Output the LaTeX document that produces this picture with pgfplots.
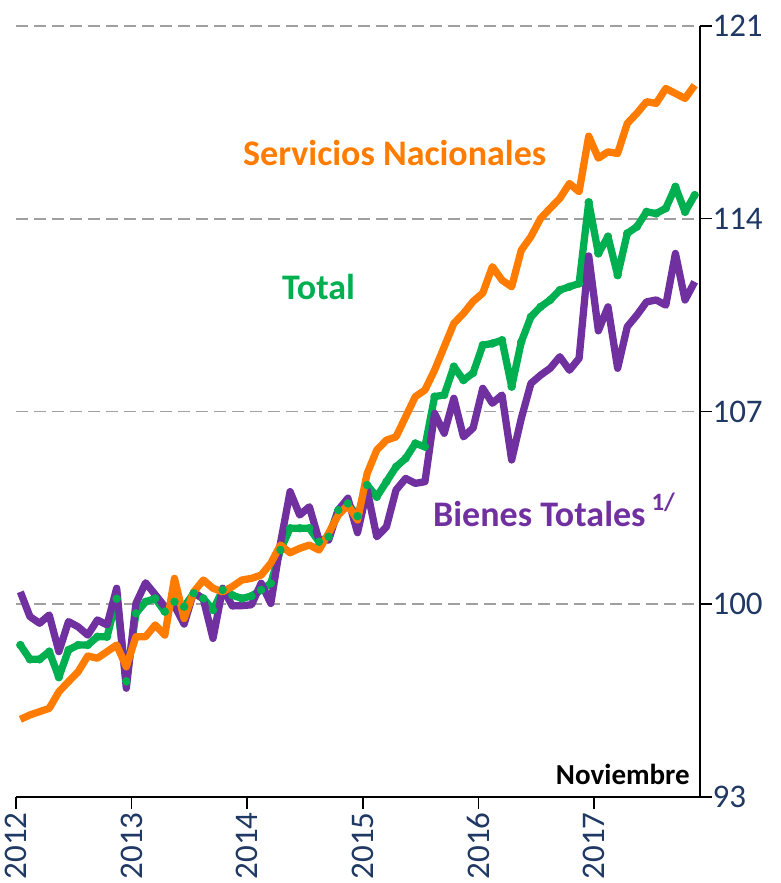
\documentclass[border=0pt]{standalone}
\usepackage{fontspec}
\setmainfont{Carlito}
\usepackage{pgfplots}
\usepackage{pgfplotstable}
\pgfplotsset{compat=1.18}
\definecolor{cOr}{RGB}{255,124,0}
\definecolor{cGr}{RGB}{0,176,80}
\definecolor{cPu}{RGB}{112,48,160}
\definecolor{cTk}{RGB}{31,56,100}
\definecolor{cGd}{RGB}{160,160,160}
\definecolor{cDot}{RGB}{120,230,60}

\pgfplotstableread{
m v
0 95.82
1 95.98
2 96.10
3 96.22
4 96.82
5 97.19
6 97.55
7 98.12
8 98.04
9 98.28
10 98.52
11 97.73
12 98.82
13 98.82
14 99.25
15 98.88
16 100.94
17 99.48
18 100.45
19 100.88
20 100.58
21 100.45
22 100.64
23 100.88
24 100.94
25 101.06
26 101.49
27 102.15
28 101.87
29 102.03
30 102.15
31 101.97
32 102.58
33 103.24
34 103.60
35 103.06
36 104.75
37 105.60
38 105.96
39 106.08
40 106.81
41 107.54
42 107.78
43 108.50
44 109.35
45 110.20
46 110.56
47 111.00
48 111.30
49 112.26
50 111.77
51 111.53
52 112.86
53 113.35
54 114.01
55 114.38
56 114.74
57 115.28
58 114.98
59 117.00
60 116.20
61 116.43
62 116.37
63 117.46
64 117.83
65 118.25
66 118.19
67 118.73
68 118.55
69 118.37
70 118.85
}\servicios

\pgfplotstableread{
m v
0 98.52
1 98.00
2 98.00
3 98.28
4 97.35
5 98.34
6 98.52
7 98.52
8 98.82
9 98.82
10 100.20
11 97.20
12 99.67
13 100.09
14 100.21
15 99.73
16 100.09
17 99.91
18 100.40
19 100.21
20 99.79
21 100.52
22 100.33
23 100.21
24 100.30
25 100.52
26 100.76
27 101.97
28 102.76
29 102.76
30 102.76
31 102.27
32 102.45
33 103.42
34 103.66
35 103.20
36 104.33
37 103.90
38 104.45
39 104.99
40 105.30
41 105.84
42 105.72
43 107.54
44 107.60
45 108.63
46 108.14
47 108.40
48 109.41
49 109.47
50 109.59
51 107.90
52 109.53
53 110.44
54 110.80
55 111.05
56 111.41
57 111.53
58 111.65
59 114.60
60 112.74
61 113.35
62 111.95
63 113.47
64 113.71
65 114.25
66 114.19
67 114.38
68 115.16
69 114.25
70 114.86
}\total

\pgfplotstableread{
m v
0 100.45
1 99.55
2 99.31
3 99.61
4 98.28
5 99.37
6 99.18
7 98.88
8 99.43
9 99.25
10 100.58
11 96.95
12 100.03
13 100.78
14 100.35
15 99.91
16 99.95
17 99.28
18 100.45
19 100.18
20 98.76
21 100.58
22 99.94
23 99.95
24 99.98
25 100.76
26 100.03
27 102.21
28 104.09
29 103.24
30 103.54
31 102.33
32 102.33
33 103.42
34 103.85
35 102.60
36 104.15
37 102.45
38 102.81
39 104.15
40 104.57
41 104.39
42 104.45
43 106.93
44 106.21
45 107.48
46 106.08
47 106.40
48 107.84
49 107.30
50 107.60
51 105.24
52 106.75
53 108.02
54 108.32
55 108.57
56 108.99
57 108.50
58 108.93
59 112.65
60 109.93
61 110.80
62 108.57
63 110.08
64 110.50
65 110.98
66 111.05
67 110.86
68 112.74
69 111.05
70 111.71
}\bienes

\begin{document}
\begin{tikzpicture}
\begin{axis}[
  scale only axis, width=684bp, height=771bp,
  xmin=0, xmax=71, ymin=93, ymax=121,
  axis x line*=bottom, axis y line*=right,
  axis line style={black, line width=1.5bp},
  xtick={0,12,24,36,48,60},
  xticklabels={2012,2013,2014,2015,2016,2017},
  ytick={93,100,107,114,121},
  tick align=outside,
  major tick length=12bp,
  tick style={black, line width=1.5bp},
  ymajorgrids,
  grid style={cGd, dash pattern=on 12bp off 6bp, line width=1.6bp},
  /pgf/number format/assume math mode=true,
  tick label style={font=\fontsize{33bp}{35bp}\selectfont, text=cTk},
  xticklabel style={rotate=90, anchor=east, xshift=0bp},
  yticklabel style={anchor=west, xshift=-3bp},
  clip=false,
]
\addplot[cGr, line width=7.3bp, line join=round, mark=*, mark size=0.6bp,
  mark options={fill=cDot, draw=none}]
  table[x expr=\thisrow{m}+0.45, y=v] {\total};
\addplot[cPu, line width=7.3bp, line join=round]
  table[x expr=\thisrow{m}+0.45, y=v] {\bienes};
\addplot[cOr, line width=7.3bp, line join=round]
  table[x expr=\thisrow{m}+0.45, y=v] {\servicios};

\node[anchor=base west, inner sep=0pt, text=cOr,
  font=\fontsize{36bp}{40bp}\selectfont\bfseries]
  at (axis cs:23.56,115.92) {Servicios Nacionales};
\node[anchor=base west, inner sep=0pt, text=cGr,
  font=\fontsize{36bp}{40bp}\selectfont\bfseries]
  at (axis cs:27.61,111.05) {Total};
\node[anchor=base west, inner sep=0pt, text=cPu,
  font=\fontsize{36bp}{40bp}\selectfont\bfseries]
  at (axis cs:43.28,102.81) {Bienes Totales\,\raisebox{0.45em}{\fontsize{25bp}{27bp}\selectfont 1/}};
\node[anchor=base east, inner sep=0pt, text=black,
  font=\fontsize{29bp}{31bp}\selectfont\bfseries]
  at (axis cs:69.96,93.47) {Noviembre};
\end{axis}
\pgfresetboundingbox
\path (current axis.south west) ++(-16bp,-86bp) rectangle ++(781bp,883bp);
\end{tikzpicture}
\end{document}
